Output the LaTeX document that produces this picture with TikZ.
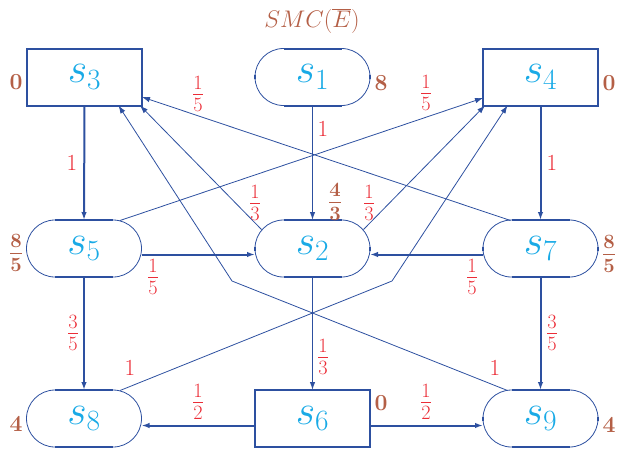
\documentclass[tikz,border=0pt]{standalone}
\usepackage{fix-cm}
\usetikzlibrary{arrows.meta,calc}
\definecolor{eblue}{RGB}{45,80,160}
\definecolor{scyan}{RGB}{25,170,230}
\definecolor{lred}{RGB}{235,45,55}
\definecolor{wbrown}{RGB}{180,95,70}
\begin{document}
\begin{tikzpicture}[x=1pt,y=-1pt,
  box/.style={draw=eblue, line width=2pt, minimum width=115pt, minimum height=57pt, inner sep=0pt, outer sep=0pt, text=scyan, font=\fontsize{42}{44}\selectfont},
  stad/.style={box, line width=0.8pt, rounded corners=28.5pt},
  thk/.style={draw=eblue, line width=2pt},
  thn/.style={draw=eblue, line width=0.8pt},
  med/.style={draw=eblue, line width=1.1pt},
  arr/.style={-{Latex[length=8pt,width=5.5pt]}},
  lab/.style={text=lred, font=\fontsize{23}{25}\selectfont, inner sep=0pt},
  flab/.style={lab, font=\fontsize{29}{31}\selectfont},
  wt/.style={text=wbrown, font=\fontsize{23}{25}\selectfont\boldmath\bfseries, inner sep=0pt},
  fwt/.style={wt, font=\fontsize{29}{31}\selectfont\boldmath\bfseries}]
\useasboundingbox (0,0) rectangle (617,448);
% title
\node[text=wbrown, font=\fontsize{24}{26}\selectfont] (title) at (312,21) {$SMC(\overline{E})$};
% states
\node[box]  (s3) at (84.5,77)    {$s_3$};
\node[stad] (s1) at (312.5,77)   {$s_1$};
\node[box]  (s4) at (540.5,77)   {$s_4$};
\node[stad] (s5) at (84,248.5)   {$s_5$};
\node[stad] (s2) at (312.5,248.5) {$s_2$};
\node[stad] (s7) at (540.5,248.5) {$s_7$};
\node[stad] (s8) at (84,418.5)   {$s_8$};
\node[box]  (s6) at (312.5,418.5) {$s_6$};
\node[stad] (s9) at (540.5,418.5) {$s_9$};
\foreach \n in {s1,s5,s2,s7,s8,s9}{
  \draw[thk] ([xshift=28.5pt]\n.north west) -- ([xshift=-28.5pt]\n.north east);
  \draw[thk] ([xshift=28.5pt]\n.south west) -- ([xshift=-28.5pt]\n.south east);
  \draw[eblue,line width=1.6pt] ([yshift=2pt]\n.west) -- ([yshift=-2pt]\n.west);
  \draw[eblue,line width=1.6pt] ([yshift=2pt]\n.east) -- ([yshift=-2pt]\n.east);
}
% straight connectors
\draw[med,arr] (s1.south) -- (s2.north);
\draw[thk,arr] (s3.south) -- (s5.north);
\draw[thk,arr] (s4.south) -- (s7.north);
\draw[thk,arr] ([yshift=-6pt]s5.east) -- ([yshift=-6pt]s2.west);
\draw[thk,arr] ([yshift=-6pt]s7.west) -- ([yshift=-6pt]s2.east);
\draw[thk,arr] (s5.south) -- (s8.north);
\draw[thk,arr] (s7.south) -- (s9.north);
\draw[med,arr] (s2.south) -- (s6.north);
\draw[thk,arr] ([yshift=-7pt]s6.west) -- ([yshift=-7pt]s8.east);
\draw[thk,arr] ([yshift=-7pt]s6.east) -- ([yshift=-7pt]s9.west);
% diagonal connectors
\draw[thn,arr] ($(s2.center)+(-51,-19)$) -- ([xshift=-2pt]s3.south east);
\draw[thn,arr] ($(s2.center)+(51,-19)$) -- ([xshift=2pt]s4.south west);
\draw[thn,arr] ($(s5.center)+(36,-28)$) -- ([yshift=-21pt]s4.west);
\draw[thn,arr] ($(s7.center)+(-30,-28)$) -- ([yshift=-20pt]s3.east);
\coordinate (b1) at (392,281);
\coordinate (b2) at (232,281);
\draw[thn,arr] ($(s8.center)+(36,-28)$) -- (b1) -- ([xshift=-33pt]s4.south);
\draw[thn,arr] ($(s9.center)+(-33,-28)$) -- (b2) -- ([xshift=34pt]s3.south);
% probability labels
\node[lab] (p12) at (323,129) {$1$};
\node[lab] (p35) at (72,163) {$1$};
\node[lab] (p47) at (552,163) {$1$};
\node[flab] (p73) at (198,94) {$\frac{1}{5}$};
\node[flab] (p54) at (426,93) {$\frac{1}{5}$};
\node[flab] (p23) at (255,203) {$\frac{1}{3}$};
\node[flab] (p24) at (369,203) {$\frac{1}{3}$};
\node[flab] (p52) at (153,277) {$\frac{1}{5}$};
\node[flab] (p72) at (472,277) {$\frac{1}{5}$};
\node[flab] (p58) at (73,333) {$\frac{3}{5}$};
\node[flab] (p79) at (552,333) {$\frac{3}{5}$};
\node[flab] (p26) at (323,357) {$\frac{1}{3}$};
\node[lab] (p84) at (130,368) {$1$};
\node[lab] (p93) at (495,368) {$1$};
\node[flab] (p68) at (198,402) {$\frac{1}{2}$};
\node[flab] (p69) at (426,402) {$\frac{1}{2}$};
% weights
\node[wt] (w3) at (16,82) {$0$};
\node[wt] (w1) at (381,83) {$8$};
\node[wt] (w4) at (609,83) {$0$};
\node[fwt] (w5) at (16,253) {$\frac{8}{5}$};
\node[fwt] (w2) at (335,202) {$\frac{4}{3}$};
\node[fwt] (w7) at (609,254) {$\frac{8}{5}$};
\node[wt] (w8) at (16,424) {$4$};
\node[wt] (w6) at (381,403) {$0$};
\node[wt] (w9) at (609,425) {$4$};
\end{tikzpicture}
\end{document}
